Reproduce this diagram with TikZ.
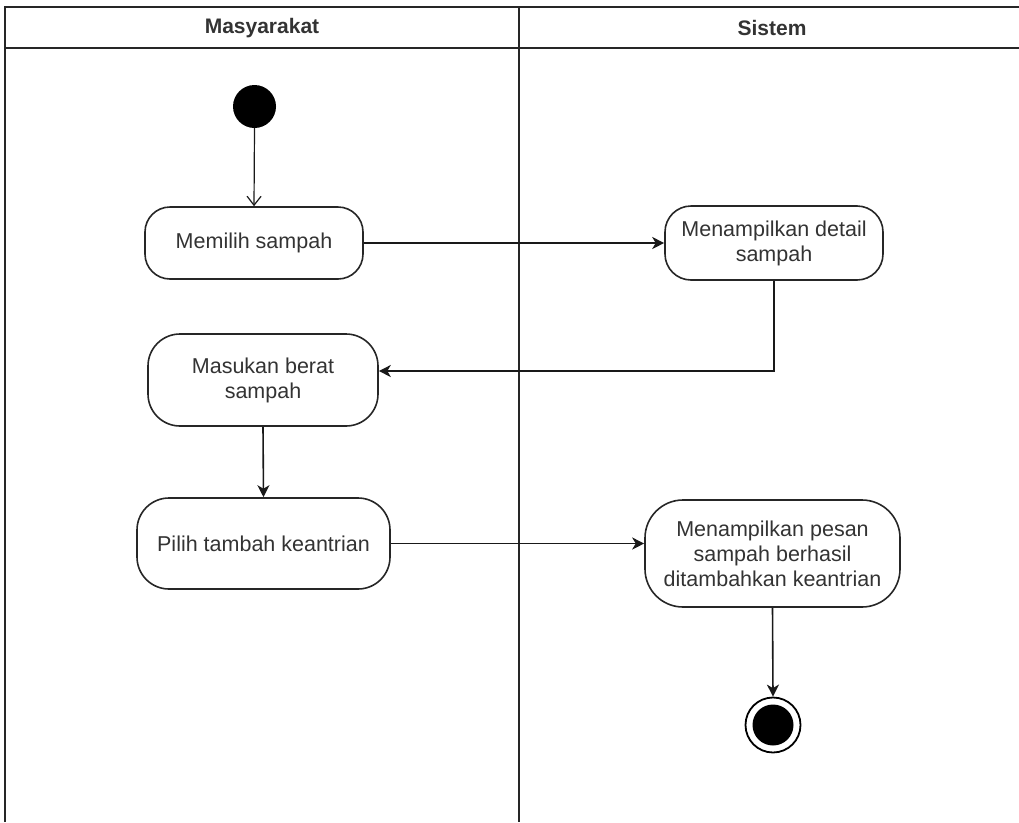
\documentclass[tikz,border=0pt]{standalone}
\usepackage{fontspec}
\setmainfont{Liberation Sans}
\usetikzlibrary{arrows.meta}
\begin{document}
\begin{tikzpicture}[x=1pt,y=-1pt,
  frameline/.style={line width=1.8pt,black!85},
  act/.style={draw=black!85,line width=1.6pt,align=center,inner sep=0pt,
    font=\fontsize{21.5}{25}\selectfont,text=black!80},
  flow/.style={line width=1.6pt,black!90,-{Stealth[length=12pt,width=12pt,inset=3.5pt]}},
  openflow/.style={line width=1.2pt,black!90,-{Straight Barb[length=9pt,width=14pt]}},
  lanehead/.style={font=\fontsize{21}{24}\selectfont\bfseries,text=black!80}]
\useasboundingbox (0,0) rectangle (1019,822);
% swimlane frame
\draw[frameline] (5,822) -- (5,7) -- (1019,7);
\draw[frameline] (5,48) -- (1019,48);
\draw[frameline] (519,7) -- (519,822);
\node[lanehead] (h1) at (262,28) {Masyarakat};
\node[lanehead] (h2) at (772,28) {Sistem};
% nodes
\node[circle,fill=black,minimum size=43pt,inner sep=0pt] (start) at (254.5,106.5) {};
\node[act,rounded corners=25pt,minimum width=218pt,minimum height=72pt] (memilih) at (254,243) {Memilih sampah};
\node[act,rounded corners=26pt,minimum width=218pt,minimum height=74pt] (detail) at (774,243) {Menampilkan detail\\sampah};
\node[act,rounded corners=32pt,minimum width=230pt,minimum height=92pt] (masukan) at (263,380) {Masukan berat\\sampah};
\node[act,rounded corners=32pt,minimum width=253pt,minimum height=91pt] (pilih) at (263.5,543.5) {Pilih tambah keantrian};
\node[act,rounded corners=38pt,minimum width=255pt,minimum height=107pt] (pesan) at (772.5,553.5) {Menampilkan pesan\\sampah berhasil\\ditambahkan keantrian};
\node[circle,draw=black,line width=1.8pt,minimum size=55pt,inner sep=0pt] (endo) at (773,725) {};
\node[circle,fill=black,minimum size=41pt,inner sep=0pt] (endi) at (773,725) {};
% connectors
\draw[openflow] (start.south) -- (memilih.north);
\draw[flow] (memilih.east) -- (detail.west |- memilih.east);
\draw[flow] (detail.south) |- (masukan.east |- 0,371);
\draw[flow] (masukan.south) -- (pilih.north);
\draw[flow] (pilih.east) -- (pesan.west |- pilih.east);
\draw[flow] (pesan.south) -- (endo.north);
\end{tikzpicture}
\end{document}
